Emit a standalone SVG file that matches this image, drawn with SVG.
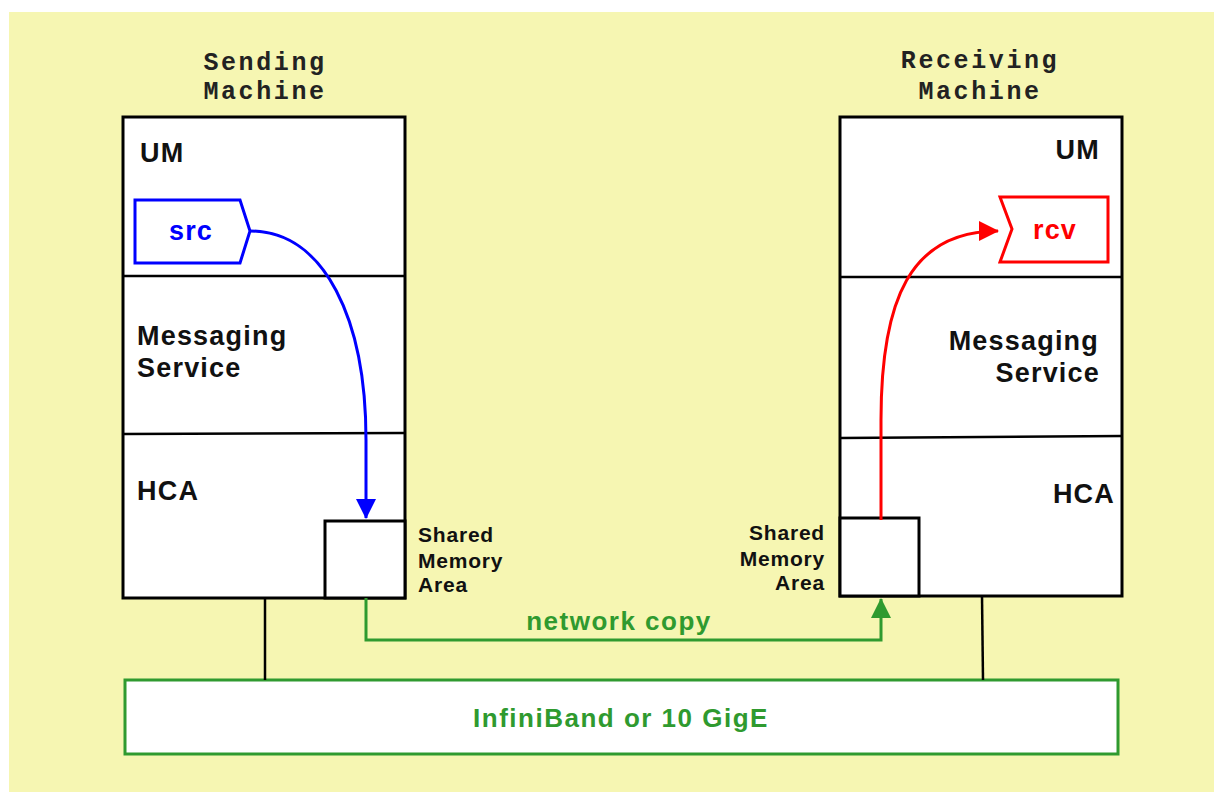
<svg xmlns="http://www.w3.org/2000/svg" width="1214" height="792" viewBox="0 0 1214 792">
<style>
.box{fill:#fff;stroke:#000;stroke-width:3}
.div{stroke:#000;stroke-width:2.5;fill:none}
.lbl{font-family:"Liberation Sans",Arial,sans-serif;font-weight:bold;font-size:27px;letter-spacing:1.2px;fill:#111}
.sm{font-family:"Liberation Sans",Arial,sans-serif;font-weight:bold;font-size:21px;letter-spacing:0.8px;fill:#111}
.mono{font-family:"Liberation Mono","Courier New",monospace;font-weight:bold;font-size:25px;letter-spacing:2.6px;fill:#222;text-anchor:middle}
.green{fill:#2f9a2f}
</style>
<defs>
<marker id="ab" markerUnits="userSpaceOnUse" markerWidth="20" markerHeight="20" refX="19" refY="10" orient="auto"><path d="M0,0 L20,10 L0,20 z" fill="#0000ff"/></marker>
<marker id="ar" markerUnits="userSpaceOnUse" markerWidth="20" markerHeight="20" refX="19" refY="10" orient="auto"><path d="M0,0 L20,10 L0,20 z" fill="#ff0000"/></marker>
<marker id="ag" markerUnits="userSpaceOnUse" markerWidth="20" markerHeight="20" refX="19" refY="10" orient="auto"><path d="M0,0 L20,10 L0,20 z" fill="#2f9a2f"/></marker>
</defs>
<rect x="9" y="12" width="1205" height="780" fill="#f6f6b2"/>

<g id="sending">
<text class="mono" x="265" y="70">Sending</text>
<text class="mono" x="265" y="99">Machine</text>
<rect class="box" x="123" y="117" width="282" height="481"/>
<line class="div" x1="123" y1="276" x2="405" y2="276"/>
<line class="div" x1="123" y1="434" x2="405" y2="433"/>
<text class="lbl" x="140" y="162">UM</text>
<text class="lbl" x="137" y="345">Messaging</text>
<text class="lbl" x="137" y="377">Service</text>
<text class="lbl" x="137" y="500">HCA</text>
</g>
<g id="src">
<polygon points="135,200 240,200 250,231 240,263 135,263" fill="#fff" stroke="#0000ff" stroke-width="3"/>
<text class="lbl" x="191" y="240" text-anchor="middle" style="fill:#0000ff">src</text>
</g>
<g id="shm-left">
<rect class="box" x="325" y="521" width="80" height="77"/>
<text class="sm" x="418" y="542">Shared</text>
<text class="sm" x="418" y="568">Memory</text>
<text class="sm" x="418" y="592">Area</text>
</g>

<g id="receiving">
<text class="mono" x="980" y="68">Receiving</text>
<text class="mono" x="980" y="99">Machine</text>
<rect class="box" x="840" y="117" width="282" height="479"/>
<line class="div" x1="840" y1="277" x2="1122" y2="277"/>
<line class="div" x1="840" y1="438" x2="1122" y2="436"/>
<text class="lbl" x="1100" y="159" text-anchor="end">UM</text>
<text class="lbl" x="1099" y="350" text-anchor="end">Messaging</text>
<text class="lbl" x="1100" y="382" text-anchor="end">Service</text>
<text class="lbl" x="1115" y="503" text-anchor="end">HCA</text>
</g>
<g id="rcv">
<polygon points="1000,197 1108,197 1108,262 1000,262 1012,229" fill="#fff" stroke="#ff0000" stroke-width="3"/>
<text class="lbl" x="1055" y="239" text-anchor="middle" style="fill:#ff0000">rcv</text>
</g>
<g id="shm-right">
<rect class="box" x="840" y="518" width="79" height="78"/>
<text class="sm" x="825" y="540" text-anchor="end">Shared</text>
<text class="sm" x="825" y="566" text-anchor="end">Memory</text>
<text class="sm" x="825" y="590" text-anchor="end">Area</text>
</g>

<g id="network">
<rect x="125" y="680" width="993" height="74" fill="#fff" stroke="#2f9a2f" stroke-width="3"/>
<text class="lbl green" x="621" y="727" text-anchor="middle" style="font-size:26px;letter-spacing:1.5px">InfiniBand or 10 GigE</text>
</g>

<g id="connectors" fill="none">
<line x1="265" y1="598" x2="265" y2="680" stroke="#000" stroke-width="2.5"/>
<line x1="982" y1="596" x2="983" y2="680" stroke="#000" stroke-width="2.5"/>
<path d="M250,231 C325,231 366,320 366,440 L366,518" stroke="#0000ff" stroke-width="3" marker-end="url(#ab)"/>
<path d="M881,520 L881,420 C881,300 910,231 998,231" stroke="#ff0000" stroke-width="3" marker-end="url(#ar)"/>
<path d="M366,598 L366,640 L881,640 L881,599" stroke="#2f9a2f" stroke-width="3" marker-end="url(#ag)"/>
<text class="lbl green" x="619" y="630" text-anchor="middle" stroke="none" style="font-size:26px;letter-spacing:1.5px">network copy</text>
</g>
</svg>
